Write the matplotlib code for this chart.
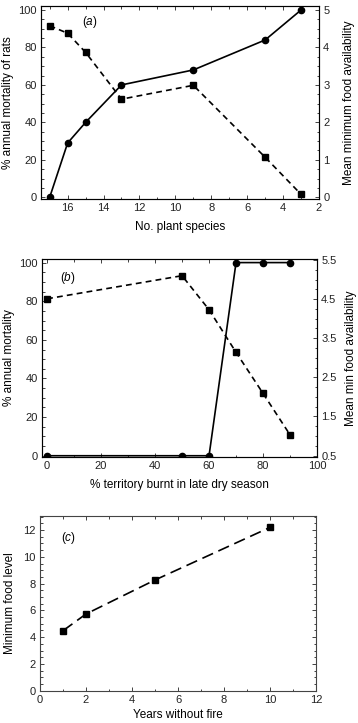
import matplotlib
matplotlib.use("Agg")
import matplotlib.pyplot as plt
from matplotlib.ticker import AutoMinorLocator

plt.rcParams['font.family'] = ['Liberation Sans', 'DejaVu Sans']
plt.rcParams['font.size'] = 8
plt.rcParams['mathtext.fontset'] = 'custom'
plt.rcParams['mathtext.it'] = 'Liberation Sans:italic'
plt.rcParams['mathtext.rm'] = 'Liberation Sans'

# panel (a)
species = [17, 16, 15, 13, 9, 5, 3]
mort_a = [0, 29, 40, 60, 68, 84, 100]
food_a = [4.58, 4.38, 3.87, 2.62, 2.99, 1.07, 0.08]

# panel (b)
burnt_mort = [0, 50, 60, 70, 80, 90]
mort_b = [0, 0, 0, 100, 100, 100]
burnt_food = [0, 50, 60, 70, 80, 90]
food_b = [4.51, 5.10, 4.23, 3.14, 2.09, 1.03]

# panel (c)
years = [1, 2, 5, 10]
food_c = [4.48, 5.73, 8.27, 12.2]

fig = plt.figure(figsize=(3.58, 7.23), dpi=100)
W, H = 358, 723

def px_axes(l, t, r, b):
    return fig.add_axes([l / W, 1 - b / H, (r - l) / W, (b - t) / H])

spine_col = '#444444'

def style(ax, right=False):
    ax.tick_params(direction='in', which='both', top=True, right=not right,
                   length=3, width=0.6, colors='#222222', labelsize=8, pad=3)
    ax.tick_params(which='minor', length=1.8)
    for s in ax.spines.values():
        s.set_color(spine_col)
        s.set_linewidth(0.8)

def style_right(ax2):
    ax2.tick_params(direction='in', which='both', length=3, width=0.6,
                    colors='#222222', labelsize=8, pad=3)
    ax2.tick_params(which='minor', length=1.8)

# ---- (a)
ax = px_axes(40.7, 5.7, 319, 199)
ax.plot(species, mort_a, '-', color='black', lw=1.2, marker='o', ms=4.5, zorder=3)
ax.set_xlim(17.5, 2)
ax.set_ylim(-0.9, 102.3)
ax.set_xticks([16, 14, 12, 10, 8, 6, 4, 2])
ax.set_yticks([0, 20, 40, 60, 80, 100])
ax.yaxis.set_minor_locator(AutoMinorLocator(4))
ax.xaxis.set_minor_locator(AutoMinorLocator(2))
ax.set_xlabel('No. plant species', fontsize=8.5, labelpad=6)
ax.set_ylabel('% annual mortality of rats', fontsize=8.5, labelpad=3)
ax.text(0.147, 0.914, r'($\it{a}$)', transform=ax.transAxes, fontsize=8.5, ha='left', va='center')
style(ax, right=True)
ax2 = ax.twinx()
ax2.plot(species, food_a, '--', color='black', lw=1.2, marker='s', ms=4.5, dashes=(3.5, 2.5))
ax2.set_ylim(-0.045, 5.115)
ax2.set_yticks([0, 1, 2, 3, 4, 5])
ax2.yaxis.set_minor_locator(AutoMinorLocator(4))
ax2.set_ylabel('Mean minimum food availability', fontsize=8.5, labelpad=10)
style_right(ax2)

# ---- (b)
ax = px_axes(41.7, 259.3, 317, 456.7)
ax.plot(burnt_mort, mort_b, '-', color='black', lw=1.2, marker='o', ms=4.5, zorder=3)
ax.set_xlim(-2, 100)
ax.set_ylim(-0.5, 101.7)
ax.set_xticks([0, 20, 40, 60, 80, 100])
ax.set_yticks([0, 20, 40, 60, 80, 100])
ax.yaxis.set_minor_locator(AutoMinorLocator(4))
ax.xaxis.set_minor_locator(AutoMinorLocator(2))
ax.set_xlabel('% territory burnt in late dry season', fontsize=8.5, labelpad=6)
ax.set_ylabel('% annual mortality', fontsize=8.5, labelpad=3)
ax.text(0.067, 0.904, r'($\it{b}$)', transform=ax.transAxes, fontsize=8.5, ha='left', va='center')
style(ax, right=True)
ax2 = ax.twinx()
ax2.plot(burnt_food, food_b, '--', color='black', lw=1.2, marker='s', ms=4.5, dashes=(3.5, 2.5))
ax2.set_ylim(0.47, 5.52)
ax2.set_yticks([0.5, 1.5, 2.5, 3.5, 4.5, 5.5])
ax2.yaxis.set_minor_locator(AutoMinorLocator(4))
ax2.set_ylabel('Mean min food availability', fontsize=8.5, labelpad=6)
style_right(ax2)

# ---- (c)
ax = px_axes(40, 516, 316, 690.7)
ax.plot(years, food_c, '--', color='black', lw=1.2, marker='s', ms=4.5, dashes=(7, 3.5))
ax.set_xlim(0, 12)
ax.set_ylim(0, 13.05)
ax.set_xticks([0, 2, 4, 6, 8, 10, 12])
ax.set_yticks([0, 2, 4, 6, 8, 10, 12])
ax.yaxis.set_minor_locator(AutoMinorLocator(4))
ax.xaxis.set_minor_locator(AutoMinorLocator(2))
ax.set_xlabel('Years without fire', fontsize=8.5, labelpad=3)
ax.set_ylabel('Minimum food level', fontsize=8.5, labelpad=5)
ax.text(0.076, 0.872, r'($\it{c}$)', transform=ax.transAxes, fontsize=8.5, ha='left', va='center')
style(ax)

fig.savefig('out.png', dpi=100)
